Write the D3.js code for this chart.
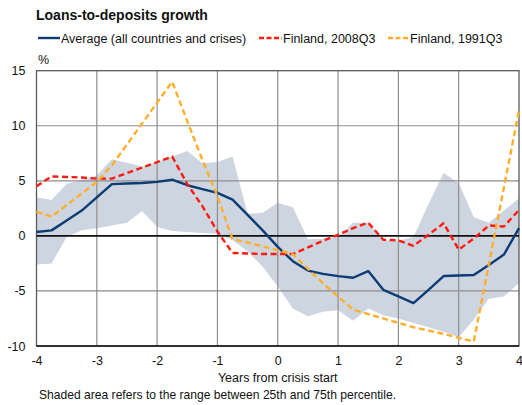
<!DOCTYPE html>
<html>
<head>
<meta charset="utf-8">
<script src="https://cdn.jsdelivr.net/npm/d3@7"></script>
<style>
  html, body { margin: 0; padding: 0; background: #fff; }
  svg { display: block; font-family: "Liberation Sans", Arial, sans-serif; }
</style>
</head>
<body>
<svg id="chart" width="522" height="405"></svg>
<script>
// Quarters from crisis start (years)
const quarters = d3.range(-4, 4.001, 0.25);

// Average loans-to-deposits growth, all countries and crises (%)
const average = [0.35, 0.5, 1.4, 2.3, 3.5, 4.7, 4.75, 4.8, 4.9, 5.1, 4.6, 4.25, 3.9, 3.3,
  1.9, 0.5, -1.0, -2.3, -3.15, -3.45, -3.65, -3.8, -3.2, -4.9, -5.5, -6.1, -4.9, -3.65,
  -3.6, -3.55, -2.65, -1.7, 0.7];

// Finland, crisis start 2008Q3 (%)
const finland2008 = [4.5, 5.4, 5.35, 5.3, 5.2, 5.2, 5.7, 6.2, 6.7, 7.2, 4.7, 2.7, 0.4,
  -1.55, -1.6, -1.65, -1.65, -1.65, -1.05, -0.45, 0.1, 0.7, 1.2, -0.35, -0.4, -0.9, 0.1,
  1.15, -1.25, -0.25, 0.95, 0.85, 2.35];

// Finland, crisis start 1991Q3 (%)
const finland1991 = [2.2, 1.75, 2.8, 3.85, 4.9, 6.4, 8.3, 10.2, 12.1, 14.0, 10.4, 6.9,
  3.6, -0.3, -0.6, -0.95, -1.3, -1.65, -3.0, -4.3, -5.5, -6.7, -7.1, -7.5, -7.9, -8.3,
  -8.6, -8.9, -9.25, -9.6, -2.6, 4.4, 11.4];

// 25th and 75th percentile across countries and crises (%)
const pct25 = [-2.6, -2.5, -0.1, 0.5, 0.7, 0.95, 1.2, 2.25, 0.8, 0.45, 0.35, 0.27, 0.2,
  -0.4, -1.4, -2.8, -4.6, -6.6, -7.3, -6.9, -6.75, -7.7, -6.6, -7.2, -7.5, -7.9, -8.3,
  -8.7, -9.2, -7.6, -5.7, -5.5, -4.3];
const pct75 = [3.5, 3.25, 4.7, 5.1, 5.5, 6.95, 6.65, 6.3, 6.7, 7.2, 7.7, 6.6, 6.7, 7.2,
  2.0, 2.1, 3.0, 2.6, -0.3, -0.25, -0.1, 1.2, 1.2, -0.4, -0.45, -0.1, 2.9, 5.7, 4.8, 1.7,
  1.2, 2.3, 3.4];

const xTicks = [-4, -3, -2, -1, 0, 1, 2, 3, 4];
const yTicks = [-10, -5, 0, 5, 10, 15];

const seriesNames = ["Average (all countries and crises)", "Finland, 2008Q3", "Finland, 1991Q3"];
const seriesColors = ["#0d3b74", "#ff1a0d", "#ffae2b"];

const svg = d3.select("#chart");
const margin = { left: 36.5, right: 3, top: 70.7, bottom: 59 };
const W = 522, H = 405;

const x = d3.scaleLinear().domain([-4, 4]).range([margin.left, W - margin.right]);
const y = d3.scaleLinear().domain([-10, 15]).range([H - margin.bottom, margin.top]);

// Shaded percentile band
const band = d3.area()
  .x((d, i) => x(quarters[i]))
  .y0((d, i) => y(pct25[i]))
  .y1((d, i) => y(pct75[i]));
svg.append("path")
  .datum(pct25)
  .attr("d", band)
  .attr("fill", "#cdd5e0");

// Grid
const grid = svg.append("g");
grid.selectAll("line.v").data(xTicks.slice(1, -1)).join("line")
  .attr("x1", d => x(d)).attr("x2", d => x(d))
  .attr("y1", y(15)).attr("y2", y(-10))
  .attr("stroke", "#8e8e8e").attr("stroke-width", 1.2);
grid.selectAll("line.h").data(yTicks.filter(v => v !== 0 && v !== -10 && v !== 15)).join("line")
  .attr("x1", x(-4)).attr("x2", x(4))
  .attr("y1", d => y(d)).attr("y2", d => y(d))
  .attr("stroke", "#8e8e8e").attr("stroke-width", 1.2);

// Frame
svg.append("rect")
  .attr("x", x(-4)).attr("y", y(15))
  .attr("width", x(4) - x(-4)).attr("height", y(-10) - y(15))
  .attr("fill", "none").attr("stroke", "#5a5a5a").attr("stroke-width", 1.3);
svg.append("line")
  .attr("x1", x(-4)).attr("x2", x(4))
  .attr("y1", y(-10)).attr("y2", y(-10))
  .attr("stroke", "#111").attr("stroke-width", 1.6);
svg.append("line")
  .attr("x1", x(-4)).attr("x2", x(4))
  .attr("y1", y(0)).attr("y2", y(0))
  .attr("stroke", "#111").attr("stroke-width", 1.8);

// Axes (labels only, plain hyphen for negatives)
const fmt = d => String(d);
const xAxis = d3.axisBottom(x).tickValues(xTicks).tickFormat(fmt).tickSize(0).tickPadding(10);
const gx = svg.append("g").attr("transform", `translate(0,${y(-10)})`).call(xAxis);
gx.select(".domain").remove();
gx.selectAll("text").attr("font-size", 12.5).attr("fill", "#111")
  .attr("font-family", "Liberation Sans, Arial, sans-serif");

const yAxis = d3.axisLeft(y).tickValues(yTicks).tickFormat(fmt).tickSize(0).tickPadding(11);
const gy = svg.append("g").attr("transform", `translate(${x(-4)},0)`).call(yAxis);
gy.select(".domain").remove();
gy.selectAll("text").attr("font-size", 12.5).attr("fill", "#111")
  .attr("font-family", "Liberation Sans, Arial, sans-serif");

// Series lines
const line = d3.line().x((d, i) => x(quarters[i])).y(d => y(d));
const seriesData = [average, finland2008, finland1991];
const dashes = [null, "6,3.5", "6,3.5"];
seriesData.forEach((s, k) => {
  svg.append("path")
    .datum(s)
    .attr("d", line)
    .attr("fill", "none")
    .attr("stroke", seriesColors[k])
    .attr("stroke-width", 2.4)
    .attr("stroke-dasharray", dashes[k])
    .attr("stroke-linejoin", "round");
});

// Title
svg.append("text")
  .attr("x", 36).attr("y", 20)
  .attr("font-size", 14).attr("font-weight", "bold").attr("fill", "#111")
  .text("Loans-to-deposits growth");

// Legend
const legendItems = [
  { x0: 38, x1: 60, tx: 61 },
  { x0: 259, x1: 282, tx: 283 },
  { x0: 388, x1: 409, tx: 410 }
];
legendItems.forEach((it, k) => {
  svg.append("line")
    .attr("x1", it.x0).attr("x2", it.x1)
    .attr("y1", 38).attr("y2", 38)
    .attr("stroke", seriesColors[k]).attr("stroke-width", 2.4)
    .attr("stroke-dasharray", dashes[k] ? "5,2.5" : null);
  svg.append("text")
    .attr("x", it.tx).attr("y", 42.5)
    .attr("font-size", 12.5).attr("fill", "#111")
    .text(seriesNames[k]);
});

// Unit label
svg.append("text")
  .attr("x", 38).attr("y", 64)
  .attr("font-size", 12.5).attr("fill", "#111")
  .text("%");

// X-axis title
svg.append("text")
  .attr("x", x(0)).attr("y", 382)
  .attr("text-anchor", "middle")
  .attr("font-size", 12.5).attr("fill", "#111")
  .text("Years from crisis start");

// Note
svg.append("text")
  .attr("x", 39).attr("y", 399)
  .attr("font-size", 12.1).attr("fill", "#111")
  .text("Shaded area refers to the range between 25th and 75th percentile.");
</script>
</body>
</html>
